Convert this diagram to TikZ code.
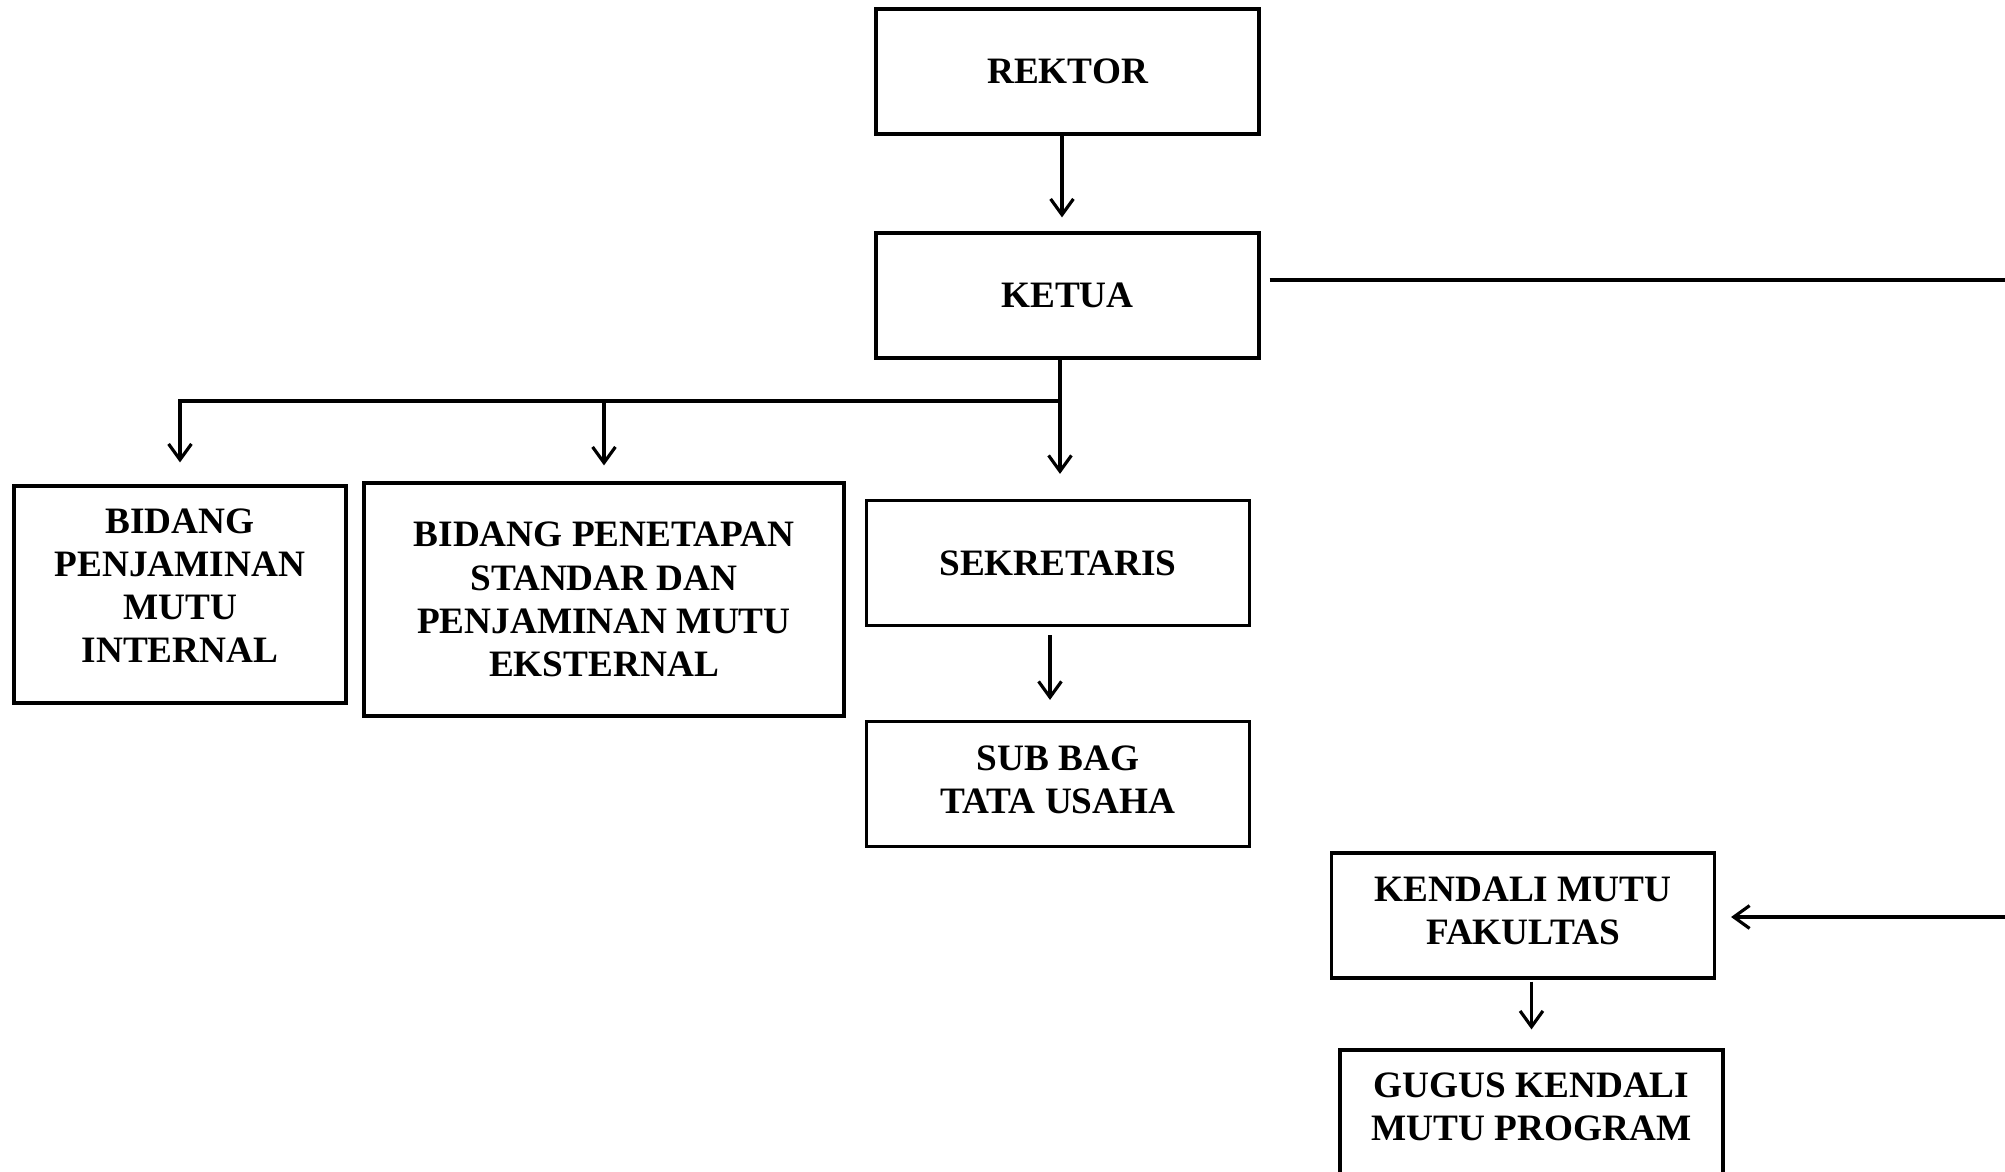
\documentclass[tikz,border=0pt]{standalone}
\usepackage{fontspec}
\setmainfont{Liberation Serif}
\usepackage{tikz}
\usetikzlibrary{arrows.meta}

\begin{document}
\begin{tikzpicture}[
                    line width=0.9pt,
                    >={Straight Barb[length=4.5pt,width=6.5pt]},
                    every node/.style={
                        rectangle,
                        draw,
                        minimum width=3.83cm,
                        minimum height=1.25cm,
                        inner sep=2pt,
                        align=center,
                        font=\bfseries\fontsize{10.6}{12.3}\selectfont
                    }
                ]
                    \useasboundingbox (0,0) rectangle (20.05,-11.71);

                    \node (rektor) at (10.675,-0.715) {REKTOR};
                    \node (ketua) [below of=rektor, node distance=2.24cm] {KETUA};
                    \node[minimum width=3.32cm, minimum height=2.17cm, text depth=1.8mm] (bpmi) at (1.80,-5.945) {BIDANG\\PENJAMINAN\\MUTU\\INTERNAL};
                    \node[minimum width=4.80cm, minimum height=2.33cm] (bpsp) at (6.04,-5.995) {BIDANG PENETAPAN\\STANDAR DAN\\PENJAMINAN MUTU\\EKSTERNAL};
                    \node (sekretaris) at (10.58,-5.63) {SEKRETARIS};
                    \node[text depth=0.8mm] (subbag) [below of=sekretaris, node distance=2.21cm] {SUB BAG\\TATA USAHA};
                    \node[text depth=1mm] (kendali) at (15.23,-9.155) {KENDALI MUTU\\FAKULTAS};
                    \node[text depth=1.2mm] (gugus) [below of=kendali, xshift=0.85mm, node distance=1.97cm] {GUGUS KENDALI\\MUTU PROGRAM};

                    \coordinate (junction) at (10.60,-4.01);
                    \coordinate (ketuaend) at (20.05,-2.80);
                    \coordinate (kendaliin) at (20.05,-9.17);

                    % Edges
                    \draw[->, shorten >=1.4mm] ([xshift=-0.55mm]rektor.south) -- ([xshift=-0.55mm]ketua.north);
                    \draw (ketua.south -| junction) -- (junction);
                    \draw[->, shorten >=2.5mm] (junction) -- (junction |- sekretaris.north);
                    \draw[->, shorten >=2.2mm] (junction) -| (bpmi.north);
                    \draw[->, shorten >=1.6mm] (junction -| bpsp.north) -- (bpsp.north);
                    \draw[->, shorten <=0.8mm, shorten >=2mm] ([xshift=-0.8mm]sekretaris.south) -- ([xshift=-0.8mm]subbag.north);
                    \draw[->, shorten <=0.2mm, shorten >=1.9mm] (kendali.south -| gugus) -- (gugus.north);
                    \draw[shorten <=0.9mm] (ketua.east |- ketuaend) -- (ketuaend);
                    \draw[->, shorten >=1.5mm] (kendaliin) -- (kendaliin -| kendali.east);
                \end{tikzpicture}
\end{document}
